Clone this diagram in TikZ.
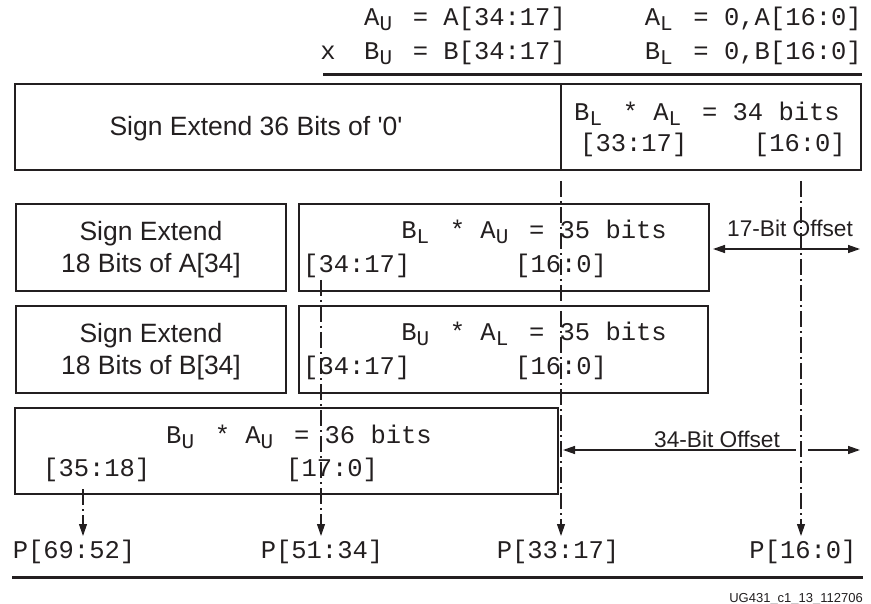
\documentclass[tikz,border=0pt]{standalone}
\usepackage{fontspec}
\setmonofont{Liberation Mono}
\newfontfamily\sansf{Liberation Sans}
\usetikzlibrary{arrows.meta}
\definecolor{ink}{HTML}{231F20}
\newcommand\lo[1]{\makebox[18pt][l]{\raisebox{-5pt}{\fontsize{21}{21}\selectfont #1}}}
\tikzset{
  bx/.style={draw=ink, line width=2.5pt, inner sep=0pt},
  mono/.style={font=\fontsize{25.5}{28}\selectfont\ttfamily, text=ink, inner sep=0pt},
  sans/.style={font=\fontsize{26.5}{32}\selectfont\sansf, text=ink, inner sep=0pt, align=center},
  lbl/.style={font=\fontsize{22.7}{26}\selectfont\sansf, text=ink, inner sep=0pt},
  dline/.style={draw=ink, line width=1.1pt, dash pattern=on 16pt off 4pt on 2pt off 4pt},
  tipd/.style={-{Triangle[length=12pt,width=8pt]}},
  dbl/.style={draw=ink, line width=1.4pt},
  rul/.style={draw=ink, line width=3pt},
}
\begin{document}
\begin{tikzpicture}[x=1pt,y=-1pt]
\useasboundingbox (0,0) rectangle (871,604);
% header
\node[mono, anchor=mid west] (au) at (364,23) {A\lo{U} = A[34:17]};
\node[mono, anchor=mid east] (al) at (862,23) {A\lo{L} = 0,A[16:0]};
\node[mono, anchor=mid] (xm) at (328,57) {x};
\node[mono, anchor=mid west] (bu) at (364,57) {B\lo{U} = B[34:17]};
\node[mono, anchor=mid east] (bl) at (862,57) {B\lo{L} = 0,B[16:0]};
\coordinate (ul1) at (323,75); \coordinate (ul2) at (862,75);
\draw[rul] (ul1) -- (ul2);
% dashed guide lines (behind)
\coordinate (s1) at (83,489);  \coordinate (t1) at (83,536);
\coordinate (s2) at (321,280); \coordinate (t2) at (321,536);
\coordinate (s3) at (561,181); \coordinate (t3) at (561,536);
\coordinate (s4) at (801,181); \coordinate (t4) at (801,536);
\draw[dline, tipd] (s1) -- (t1);
\draw[dline, tipd] (s2) -- (t2);
\draw[dline, tipd] (s3) -- (t3);
\draw[dline, tipd] (s4) -- (t4);
% row 1
\node[bx, minimum width=546pt, minimum height=86pt] (z36) at (288,127) {};
\node[sans, anchor=mid] (z36t) at (256,133) {Sign Extend 36 Bits of '0'};
\node[bx, minimum width=300pt, minimum height=86pt] (ll) at (711,127) {};
\node[mono, anchor=mid west] (llt) at (574,118) {B\lo{L} * A\lo{L} = 34 bits};
\node[mono, anchor=mid west] (lla) at (580,149) {[33:17]};
\node[mono, anchor=mid east] (llb) at (846,149) {[16:0]};
% row 2
\node[bx, minimum width=270pt, minimum height=87pt] (sea) at (151,247.5) {};
\node[sans] (seat) at (151,249.5) {Sign Extend\\18 Bits of A[34]};
\node[bx, minimum width=410pt, minimum height=87pt] (lu) at (504,247.5) {};
\node[mono, anchor=mid east] (lut) at (667,236) {B\lo{L} * A\lo{U} = 35 bits};
\node[mono, anchor=mid west] (lua) at (303,270) {[34:17]};
\node[mono, anchor=mid west] (lub) at (515,270) {[16:0]};
% row 3
\node[bx, minimum width=270pt, minimum height=87pt] (seb) at (151,349.5) {};
\node[sans] (sebt) at (151,351.5) {Sign Extend\\18 Bits of B[34]};
\node[bx, minimum width=409pt, minimum height=87pt] (ul) at (503.5,349.5) {};
\node[mono, anchor=mid east] (ult) at (667,338) {B\lo{U} * A\lo{L} = 35 bits};
\node[mono, anchor=mid west] (ula) at (303,372) {[34:17]};
\node[mono, anchor=mid west] (ulb) at (515,372) {[16:0]};
% row 4
\node[bx, minimum width=543pt, minimum height=86pt] (uu) at (286.5,451) {};
\node[mono, anchor=mid west] (uut) at (166,441) {B\lo{U} * A\lo{U} = 36 bits};
\node[mono, anchor=mid west] (uua) at (43,474) {[35:18]};
\node[mono, anchor=mid west] (uub) at (286,474) {[17:0]};
% offsets
\node[lbl, anchor=mid] (o17) at (790,234) {17-Bit Offset};
\coordinate (o17a) at (713,249); \coordinate (o17b) at (860,249);
\draw[dbl, {Triangle[length=12pt,width=8pt]}-{Triangle[length=12pt,width=8pt]}] (o17a) -- (o17b);
\node[lbl, anchor=mid] (o34) at (717,445) {34-Bit Offset};
\coordinate (o34a) at (563,450); \coordinate (o34g) at (796,450);
\coordinate (o34h) at (808,450); \coordinate (o34b) at (860,450);
\draw[dbl, {Triangle[length=12pt,width=8pt]}-] (o34a) -- (o34g);
\draw[dbl, -{Triangle[length=12pt,width=8pt]}] (o34h) -- (o34b);
% outputs
\node[mono, anchor=mid] (p1) at (74,556) {P[69:52]};
\node[mono, anchor=mid] (p2) at (322,556) {P[51:34]};
\node[mono, anchor=mid] (p3) at (558,556) {P[33:17]};
\node[mono, anchor=mid] (p4) at (803,556) {P[16:0]};
\coordinate (bl1) at (12,577); \coordinate (bl2) at (863,577);
\draw[rul] (bl1) -- (bl2);
\node[font=\fontsize{13}{15}\selectfont\sansf, text=ink, inner sep=0pt, anchor=mid east] (ug) at (863,600) {UG431\_c1\_13\_112706};
\end{tikzpicture}
\end{document}
